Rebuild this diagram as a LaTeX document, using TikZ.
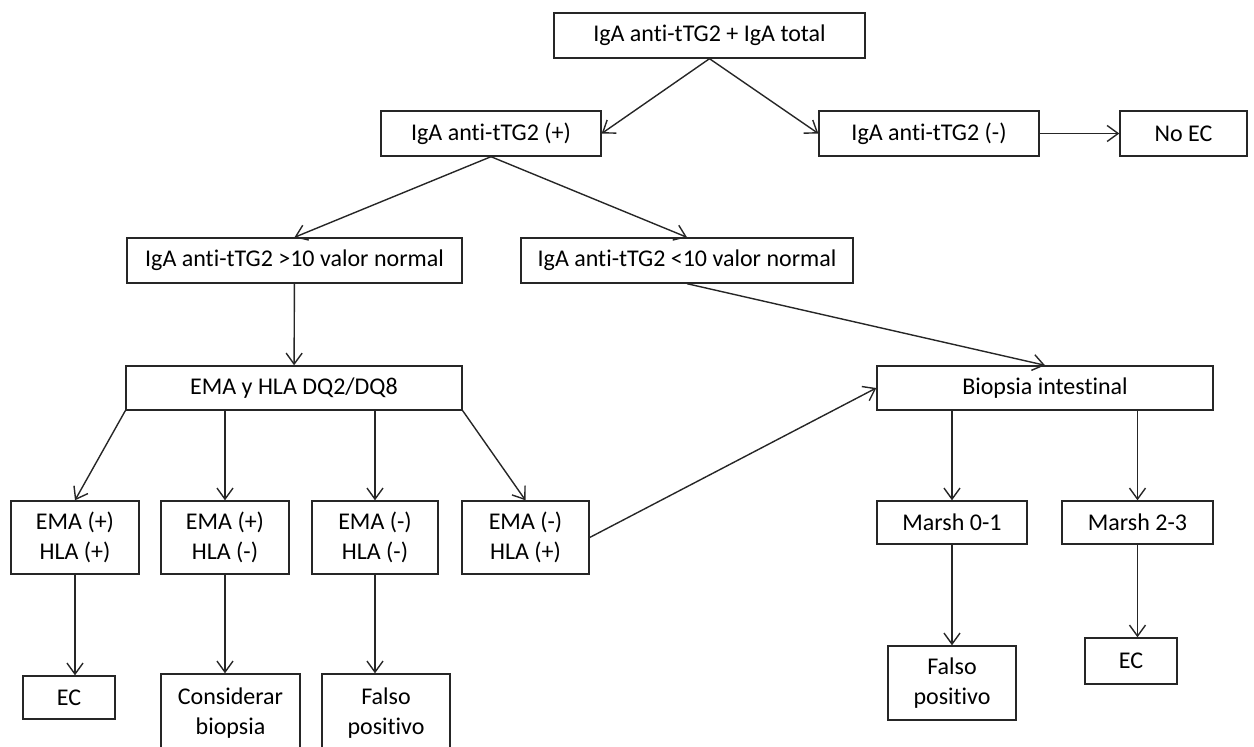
\documentclass[tikz,border=0pt]{standalone}
\usepackage{fontspec}
\setmainfont{Carlito}[Ligatures=NoCommon]
\usetikzlibrary{arrows.meta}

\begin{document}
\begin{tikzpicture}[x=0.5pt,y=-0.5pt,
	box/.style={shape=rectangle,draw=black!85,line width=0.7pt,inner sep=0pt,align=center,font=\fontsize{12}{15}\selectfont},
	flow/.style={-{Straight Barb[length=5.5pt,width=8pt]},line width=0.7pt,draw=black!85}]
	
	\useasboundingbox (0,0) rectangle (1254,747);
	
	\node[box,minimum width=155.5pt,minimum height=22.5pt] (total) at (709.5,35.5) {IgA anti-tTG2 + IgA total};
	
	\node[box,minimum width=110pt,minimum height=22.5pt] (pos) at (491,133.5) {IgA anti-tTG2 (+)};
	\node[box,minimum width=110pt,minimum height=22.5pt] (neg) at (929,133.5) {IgA anti-tTG2 (-)};
	\node[box,minimum width=63.5pt,minimum height=22.5pt] (noec) at (1183.5,133.5) {No EC};
	
	\node[box,minimum width=167.5pt,minimum height=22.5pt] (gt) at (294.5,260.5) {IgA anti-tTG2 >10 valor normal};
	\node[box,minimum width=166pt,minimum height=22.5pt] (lt) at (687,260.5) {IgA anti-tTG2 <10 valor normal};
	
	\node[box,minimum width=168pt,minimum height=22pt] (ema) at (294,388) {EMA y HLA DQ2/DQ8};
	\node[box,minimum width=168pt,minimum height=22pt] (bio) at (1045,388) {Biopsia intestinal};
	
	\node[box,minimum width=64pt,minimum height=36.5pt] (e1) at (75,537.5) {EMA (+)\\HLA (+)};
	\node[box,minimum width=64pt,minimum height=36.5pt] (e2) at (225,537.5) {EMA (+)\\HLA (-)};
	\node[box,minimum width=63pt,minimum height=36.5pt] (e3) at (375,537.5) {EMA (-)\\HLA (-)};
	\node[box,minimum width=63.5pt,minimum height=36.5pt] (e4) at (525.5,537.5) {EMA (-)\\HLA (+)};
	
	\node[box,minimum width=75pt,minimum height=21.5pt] (m1) at (952,522.5) {Marsh 0-1};
	\node[box,minimum width=75.5pt,minimum height=21.5pt] (m2) at (1137.5,522.5) {Marsh 2-3};
	
	\node[box,minimum width=46pt,minimum height=21.5pt] (ec1) at (69,697.5) {EC};
	\node[box,minimum width=69.5pt,minimum height=39pt] (cons) at (230.5,713) {Considerar\\biopsia};
	\node[box,minimum width=64pt,minimum height=39pt] (fp1) at (386,713) {Falso\\positivo};
	\node[box,minimum width=64pt,minimum height=37pt] (fp2) at (952,683) {Falso\\positivo};
	\node[box,minimum width=46pt,minimum height=23pt] (ec2) at (1131,661) {EC};
	
	\draw[flow] (total.south) -- (pos.east);
	\draw[flow] (total.south) -- (neg.west);
	\draw[flow] (neg) -- (noec);
	\draw[flow] (pos.south) -- (gt.north);
	\draw[flow] (pos.south) -- (lt.north);
	\draw[flow] (gt) -- (ema);
	\draw[flow] (lt.south) -- (bio.north);
	
	\draw[flow] (ema.south west) -- (e1.north);
	\draw[flow] (e2.north |- ema.south) -- (e2.north);
	\draw[flow] (e3.north |- ema.south) -- (e3.north);
	\draw[flow] (ema.south east) -- (e4.north);
	\draw[flow] (e4.east) -- (bio.west);
	
	\draw[flow] (e1.south) -- (e1.south |- ec1.north);
	\draw[flow] (e2.south) -- (e2.south |- cons.north);
	\draw[flow] (e3.south) -- (e3.south |- fp1.north);
	
	\draw[flow] (m1.north |- bio.south) -- (m1.north);
	\draw[flow] (m2.north |- bio.south) -- (m2.north);
	\draw[flow] (m1.south) -- (m1.south |- fp2.north);
	\draw[flow] (m2.south) -- (m2.south |- ec2.north);
	
\end{tikzpicture}
\end{document}
